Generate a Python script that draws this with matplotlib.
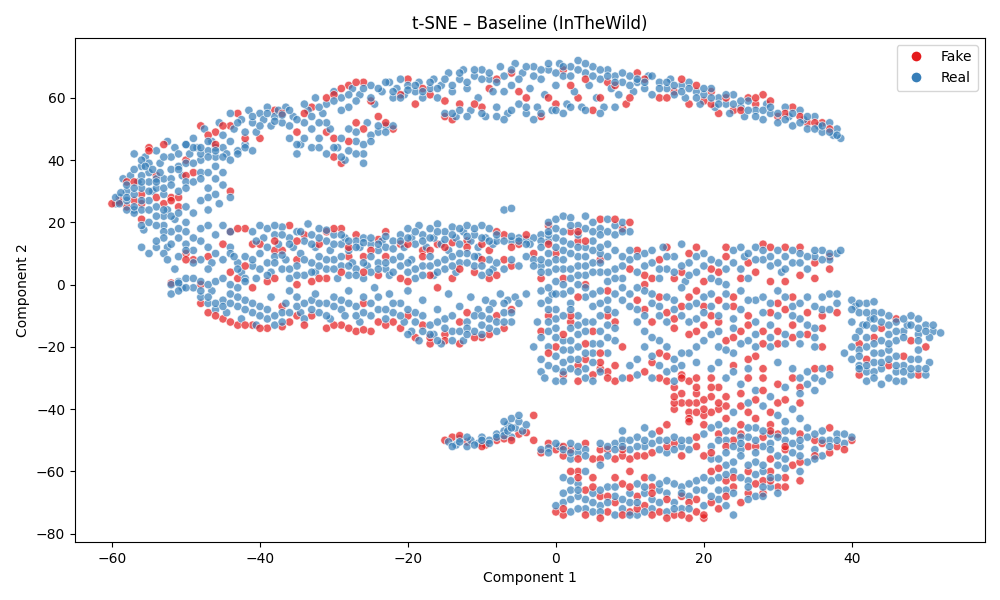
import numpy as np
import matplotlib
matplotlib.use("Agg")
import matplotlib.pyplot as plt
from matplotlib.lines import Line2D

# ---- data (t-SNE coordinates) ----
real_top = [(-59.5,26),(-59,28),(-58.5,34),(-58,30),(-57.5,35),(-57,24),(-56.5,33),(-56,38),(-55.5,41),(-55,36),(-54.5,30),(-54,43),(-53.5,39),(-53,34),(-52.5,46),(-52,41),(-51.5,44),(-51,38),(-50.5,35),(-50,45),(-49.5,42),(-49,47),(-48.5,44),(-48,40),(-47.5,50),(-47,43),(-46.5,46),(-46,41),(-45.5,52),(-45,44),(-44.5,42),(-44,55),(-43.5,50),(-43,43),(-42.5,53),(-42,45),(-41.5,56),(-41,52),(-40.5,49),(-40,55),(-39.5,53),(-39,57),(-38.5,51),(-38,54),(-37.5,56),(-37,52),(-36.5,57),(-36,47),(-35.5,54),(-35,42),(-34.5,45),(-34,52),(-33.5,56),(-33,44),(-32.5,60),(-32,47),(-31.5,55),(-31,58),(-30.5,50),(-30,62),(-29.5,44),(-29,60),(-28.5,40),(-28,57),(-27.5,63),(-27,46),(-26.5,61),(-26,42),(-25.5,52),(-25,64),(-24.5,58),(-24,49),(-23.5,62),(-23,51),(-22.5,65),(-22,60),(-21.5,63),(-21,66),(-20.5,61),(-20,64),(-19,62),(-18.5,65),(-18,60),(-17,63),(-16.5,66),(-16,60),(-15.5,64),(-15,55),(-14.5,68),(-14,62),(-13.5,54),(-13,66),(-12.5,69),(-12,63),(-11.5,56),(-11,67),(-10.5,60),(-10,69),(-9.5,54),(-9,66),(-8.5,62),(-8,57),(-7.5,70),(-7,67),(-6.5,55),(-6,64),(-5.5,71),(-5,58),(-4.5,68),(-4,55),(-3.5,63),(-3,70),(-2.5,57),(-2,66),(-1.5,61),(-1,69),(-0.5,56),(0,64),(0.5,71),(1,67),(1.5,58),(2,70),(2.5,62),(3,72),(3.5,57),(4,68),(4.5,64),(5,70),(5.5,60),(6,66),(6.5,57),(7,69),(7.5,63),(8,67),(8.5,61),(9,65),(10,67),(10.5,62),(11,65),(12,63),(12.5,67),(13,61),(14,65),(15,63),(15.5,66),(16,61),(17,64),(17.5,60),(18,65),(19,62),(19.5,58),(20,61),(21,63),(21.5,57),(22,60),(23,58),(23.5,55),(24,61),(25,57),(25.5,54),(26,59),(27,56),(28,53),(28.5,58),(29,55),(30,52),(31,57),(31.5,54),(32,51),(33,56),(33.5,53),(34,50),(35,54),(35.5,51),(36,49),(37,52),(37.5,48),(38,50),(38.5,47)]
real_top2 = [(-58,32),(-57,37),(-56,31),(-55,39),(-54,34),(-53,41),(-52,37),(-51,42),(-50,39),(-49,44),(-48,42),(-47,46),(-46,44),(-45,48),(-44,46),(-43,52),(-42,49),(-41,54),(-40,51),(-39,55),(-38,52.5),(-37,54.5),(-36,56),(-35,53),(-34,58),(-33,54),(-32,57),(-31,52),(-30,59),(-29,56),(-28,61),(-27,59),(-26,63),(-25,60),(-24,63),(-23,65),(-22,62),(-21,60),(-20,62.5),(-19,64),(-18,62),(-17,65),(-16,63),(-15,66),(-14,64),(-13,68),(-12,65),(-11,69),(-10,66),(-9,68),(-8,65),(-7,62),(-6,69),(-5,66),(-4,70),(-3,67),(-2,69),(-1,71),(0,68),(1,70),(2,67),(3,69),(4,71),(5,67),(6,69),(7,67),(8,65),(9,68),(10,64),(11,66),(12,65),(13,67),(14,63),(15,65),(16,64),(17,62),(18,63),(19,60),(20,63),(21,60),(22,58),(23,61),(24,58),(25,59),(26,56),(27,54),(28,56),(29,57),(30,55),(31,53),(32,55),(33,52),(34,54),(35,50),(36,51),(37,49),(38,48),
             (-14,55),(-12,54),(-10,55),(-8,54),(-6,56),(-4,57),(-2,55),(0,56),(2,57),(4,56),(6,55),(8,57),(-13,56),(-7,53),(-3,53),(1,55),
             (-31,42),(-30,44),(-29,47),(-28,43),(-27,49),(-26,45),(-25,48),(-24,51),(-23,49),(-22,51),(-29,41),(-27,42),(-26,39),(-28,50),(-25,46),(-34,47),(-33,50),(-32,44),(-35,45),(-36,51),(-32,52)]
fake_top = [(-59,27),(-58,25),(-56,29),(-55,44),(-54,35),(-52,28),(-50,40),(-49,36),(-48,51),(-46,49),(-44,51),(-43,55),(-40,47),(-38,56),(-35,49),(-33,57),(-31,49),(-30,41),(-29,39),(-28,64),(-27,52),(-26,65),(-24,54),(-22,50),(-20,66),(-19,58),(-17,61),(-15,54),(-14,53),(-13,58),(-10,57),(-9,63),(-6,68),(-4,60),(-2,54),(0,58),(1,69),(3,60),(5,56),(7,65),(9.5,58),(11,68),(14,60),(16,62),(18,58),(20,59),(21,62),(22,55),(24,56),(26,60),(27,58),(28,61),(30,54),(32,57),(34,52),(36,52)]
fake_top2 = [(-58,33),(-56,26),(-53,45),(-51,28),(-47,48),(-45,51),(-42,47),(-37,55),(-34,55),(-31,60),(-30,61),(-29,63),(-27,65),(-25,59),(-23,52),(-21,61),(-18,63),(-15,59),(-11,58),(-8,66),(-5,62),(-1,60),(2,64),(4,66),(6,60),(8,64),(10,60),(12,66),(15,60),(17,66),(19,64),(21,58),(23,60),(25,56),(27,60),(29,59),(31,55),(33,54),(35,52),(37,50),(-60,26),(-57,27),(-26,50),(-28,46),(-30,47)]

real_left = [(-59.5,28),(-59,26),(-58.8,29.5),(-58,27),(-57,42),(-56,40),(-55.5,38),(-54.5,37),(-53.5,36),(-56,35),(-55,33),(-54,31),(-53,29),(-55,27),(-54,25),(-52.5,24),(-53,22),(-51.5,21),(-56,24),(-57,23),(-50,45),(-48,44),(-46,43),(-45,41),(-47,41),(-49,39),(-51,37),(-48,36),(-46,34),(-50,33),(-47,31),(-45,32),(-52,34),(-53,19),(-52,17),(-51,15),(-50,13),(-52.5,12),(-54,12),(-55,10),(-53,10),(-49,11),(-48,14),(-47,12),(-46,10),(-48,8),(-46.5,7),(-51,1),(-52,0),(-50.5,-1),(-55.7,17.6),(-56,19),(-50,20),(-48,18),(-47,24),(-45.5,26),(-44,28)]
real_left2 = [(-58,28),(-57,29),(-56,27),(-57,31),(-55,30),(-56,33),(-54,33),(-53,31),(-52,32),(-51,30),(-50,31),(-49,33),(-48,34),(-47,36),(-46,38),(-45,36),(-44,40),(-43,42),(-42,44),(-41,43),(-55,24),(-54,22),(-53,24),(-52,22),(-51,23),(-50,25),(-49,23),(-48,27),(-47,28),(-46,29),(-55,20),(-54,19),(-53,17),(-51,18),(-50,17),(-49,15),(-50,11),(-51,9),(-49,7),(-47,5),(-45,8),(-44,12),(-53,15),(-54,14),(-52,13),(-56,12),(-57,25),(-58,24),(-44,17),(-45,19),(-47,19),(-46,16)]
fake_left = [(-59,26.5),(-57,33),(-55,43),(-54,28),(-53,26),(-52,27),(-56,21),(-51,25),(-50,10),(-49,8),(-47,9),(-52,0.5),(-48,0),(-44,30),(-46,45),(-50,35),(-45,13)]

real_mid = [(-41,17),(-40,19),(-39.5,15),(-39,18),(-38,16),(-37.5,13),(-37,18.5),(-36,15),(-35.5,12),(-35,17),(-34,14),(-33.5,19.5),(-33,16),(-32.5,12),(-32,18),(-31,14),(-30.5,11),(-30,16),(-29,13),(-28.5,15),(-28,11),(-27,14),(-26.5,12),(-26,15),(-25,13),(-24,11),(-23.5,14),(-23,12),(-22,14),(-21,16),(-20.5,12),(-20,18),(-19.5,15),(-19,13),(-18.5,19),(-18,16),(-17.5,12),(-17,18),(-16.5,15),(-16,19.5),(-15.5,13),(-15,17),(-14.5,11),(-14,18.5),(-13.5,15),(-13,13),(-12.5,17),(-12,19),(-11.5,14),(-11,16),(-10.5,12),(-10,19),(-9.5,15),(-9,18),(-8.5,13),(-7,24),(-6,24.5),(-8,14),(-6,14),(-5,15),(-4,14.5),(-3,15),(-2,16),(-1,14),(-3.5,13),
            (-44,10),(-43,7),(-42.5,4),(-42,9),(-41,6),(-40.5,2),(-40,10),(-39,7),(-38.5,4),(-38,9),(-37,5),(-36.5,8),(-36,2),(-35,6),(-34.5,10),(-34,3),(-33,7),(-32.5,4),(-32,9),(-31,5),(-30,8),(-29.5,2),(-29,6),(-28,3),(-27.5,7),(-27,5),(-26,2),(-25.5,6),(-25,4),(-24,7),(-23,5),(-22.5,3),(-22,8),(-21,6),(-20,4),(-19.5,8),(-19,2),(-18,6),(-17,9),(-16.5,3),(-16,7),(-15,5),(-14,9),(-13.5,4),(-13,7),(-12,10),(-11,6),(-10.5,9),(-10,3),(-9,8),(-8.5,5),
            (-49,-1),(-48,-4),(-47,-6),(-46.5,-2),(-46,-8),(-45,-5),(-44.5,-9),(-44,-3),(-43,-7),(-42.5,-11),(-42,-5),(-41,-9),(-40.5,-13),(-40,-7),(-39,-11),(-38.5,-4),(-38,-13),(-37,-9),(-36.5,-6),(-36,-2),(-35,-4),(-34.5,-9),(-34,-11),(-33,-5),(-32.5,-3),(-32,-9),(-31,-6),(-30.5,-11),(-30,-4),(-29,-8),(-28.5,-10),(-28,-2),(-27,-7),(-26.5,-12),(-26,-4),(-25,-10),(-24.5,-1),(-24,-8),(-23,-11),(-22.5,-3),(-22,-9),(-21,-6),(-20.5,-12),(-20,-2),(-19.5,-15),(-19,-9),(-18.5,-18),(-18,-5),(-17,-13),(-16.5,-16),(-16,-8),(-15.5,-19),(-15,-11),(-14.5,-3),(-14,-15),(-13,-7),(-12.5,-18),(-12,-12),(-11.5,-4),(-11,-15),(-10.5,-8),(-10,-13),(-9.5,-5),(-9,-11),(-8.5,-6),(-8,-15),(-7.5,-3),(-7,-9),(-6.5,-5),(-6,-12),(-5.5,-4),(-52,-3),(-51,0.5),(-52.5,8),(-51.5,5),(-50,2)]
real_mid2 = [(-40.5,14),(-39,12),(-38,19),(-37,16),(-36,13),(-34.5,17),(-33,13),(-32,15),(-31,17.5),(-30,13),(-29,16),(-28,14),(-27,12),(-26,13.5),(-25,15),(-24,13),(-23,15.5),(-22,11.5),(-21,14),(-20,15),(-19,17),(-18,14),(-17,15),(-16,17),(-15,14.5),(-14,16),(-13,18),(-12,15.5),(-11,18),(-10,15),(-9,14),(-8,16),(-7,14),(-6,15.5),(-5,14),(-4,13),(-2,14),(0,15),(-1,16),
             (-43.5,9),(-43,5),(-42,2),(-41,8),(-40,5),(-39,3),(-38,7),(-37,9.5),(-36,5),(-35,3),(-34,8),(-33,4),(-32,6),(-31,8),(-30,5),(-29,9),(-28,6),(-27,3),(-26,7),(-25,9),(-24,5),(-23,7),(-22,4),(-21,9),(-20,7),(-19,5),(-18,3),(-17,6),(-16,4),(-15,8),(-14,6),(-13,10),(-12,7),(-11,9),(-10,6),(-9,4),(-8,7),(-7,5),(-6,8),(-5,6),(-4,9),(-3,8),(-2,6),
             (-48,-2),(-47,-4),(-46,-6),(-45,-7),(-44,-6),(-43,-4),(-42,-8),(-41,-6),(-40,-10),(-39,-8),(-38,-10),(-37,-12),(-36,-9),(-35,-7),(-34,-6),(-33,-8),(-32,-6),(-31,-10),(-30,-7),(-29,-5),(-28,-6),(-27,-10),(-26,-9),(-25,-6),(-24,-4),(-23,-8),(-22,-6),(-21,-10),(-20,-8),(-19,-12),(-18,-10),(-17,-16),(-16,-12),(-15,-14),(-14,-10),(-13,-15),(-12,-14),(-11,-10),(-10,-10),(-9,-8),(-8,-12),(-7,-6),(-6,-9),(-5,-6),(-4,-3),(-16,-18),(-14,-18),(-12,-16),(-18,-15),(-20,-16),(-10,-16),(-9,-14),(-7,-12),
             (-51,-2),(-50,-1),(-49,2),(-48,1),(-47,0),(-46,1),(-45,2),(-44,0),(-43,-1),(-42,1)]
fake_mid = [(-44,17),(-42,18),(-41,13),(-38,11),(-36,19),(-34,16),(-31,17),(-29,18),(-27,16),(-24,14.5),(-21,13),(-18,11),(-16,13),(-14,13.5),(-12,14),(-9,11),(-7,16),(-5,13),(-43,2),(-41,-1),(-39,1),(-37,11),(-35,8),(-33,1),(-31,2),(-28,9),(-26,9),(-24,3),(-21,2),(-18,9),(-16,-1),(-14,2),(-11,4),(-9,2),(-7,8),(-47,-9),(-45,-11),(-43,-13),(-41,-13),(-39,-14),(-37,-13.5),(-35,-10),(-33,-10),(-31,-14),(-29,-13),(-27,-15),(-25,-15),(-24,-12),(-22,-12),(-20,-10),(-18,-13),(-17,-19),(-15,-16),(-13,-12),(-12,-9),(-10,-17),(-8,-10),(-6,-8),(-50,8),(-48,-6),(-37,-7),(-26,-6)]
fake_mid2 = [(-43,18),(-40,13),(-38,14),(-35,14),(-32,13),(-30,18),(-28,12),(-25,11),(-23,17),(-20,13),(-17,11),(-15,12),(-12,12),(-10,13),(-8,17),(-6,12),(-4,16),(-44,4),(-42,6),(-38,2),(-35,0),(-32,2),(-29,4),(-26,4),(-23,9),(-20,1),(-17,3),(-13,5),(-10,8),(-8,3),(-6,6),(-3,10),(-46,-10),(-44,-12),(-42,-13),(-40,-14),(-36,-12),(-34,-13),(-30,-13),(-28,-14),(-26,-14.5),(-23,-13),(-21,-14),(-19,-17),(-17,-17),(-15,-18),(-13,-19),(-11,-17),(-9,-16),(-7,-14)]

real_center = [(-1,20),(0,21),(1,22),(2,21.5),(3,19),(4,22),(5,20),(6,18),(7,21),(8,19),(9,20),(10,17),(-2,12),(-1,10),(0,8),(1,11),(2,13),(3,9),(4,12),(5,14),(6,10),(7,13),(-3,6),(-2,8),(-1,4),(0,1),(1,5),(2,2),(3,6),(4,3),(5,7),(6,4),(7,1),(8,5),(9,2),(-2,-2),(-1,-5),(0,-8),(1,-3),(2,-6),(3,-10),(4,-4),(5,-7),(6,-2),(7,-5),(-2.5,-12),(-1,-15),(0,-11),(1,-18),(2,-14),(3,-16),(4,-12),(5,-19),(6,-15),(7,-22),(-1,-20),(0,-23),(1,-25),(2,-21),(3,-24),(4,-27),(5,-22),(6,-28),(-3,-20),(-2,-28),(-1.5,-30),(0,-31),(1,-28),(-0.5,-3),(8,-9),(8,-18)]
real_center2 = [(0,18),(1,17),(2,19),(3,16),(4,18),(5,17),(6,16),(7,17),(8,16),(9,17),(-1,17),(0,12),(1,14),(2,10),(3,12),(4,9),(5,11),(6,12),(7,9),(8,11),(9,9),(-2,4),(-1,7),(0,5),(1,8),(2,5),(3,3),(4,6),(5,4),(6,7),(7,4),(8,2),(-1,-1),(0,-3),(1,0),(2,-2),(3,0),(4,-1),(5,-3),(6,-6),(7,-8),(-1,-8),(0,-14),(1,-10),(2,-8),(3,-13),(4,-15),(5,-12),(6,-10),(7,-13),(-2,-17),(-1,-12),(0,-17),(1,-21),(2,-18),(3,-20),(4,-22),(5,-25),(6,-19),(7,-17),(-2,-24),(-1,-26),(0,-27),(1,-31),(2,-27),(3,-28),(4,-30),(5,-31),(2,-24),(-2,-6),(8,-3),(9,-5),(9,-1),(8,-14)]
fake_center2 = [(-1,19),(2,17),(6,21),(9,18),(0,10),(3,14),(6,8),(-2,2),(1,2),(4,0),(7,-2),(-1,-10),(2,-12),(5,-15),(7,-10),(-2,-15),(0,-20),(3,-26),(6,-27),(8,-26),(1,-29),(4,-24),(7,-28)]

real_right = [(9,6),(10,8),(11,4),(12,10),(13,7),(14,2),(14.5,12),(15,5),(16,9),(17,13),(17.5,1),(18,7),(19,4),(20,10),(21,2),(22,7),(23,0),(24,11),(25,5),(25.5,9),(26,2),(27,12),(28,8),(29,6),(30,11),(30.5,4),(31,9),(32,7),(33,10),(34,5),(35,9),(36,11),(37,8),(38,10),(38.5,11),
              (10,-3),(11,-8),(12,-2),(13,-6),(14,-10),(15,-4),(16,-8),(17,-1),(18,-12),(19,-6),(20,-9),(21,-3),(22,-15),(23,-7),(24,-11),(25,-2),(26,-18),(27,-5),(28,-9),(29,-13),(30,-2),(31,-16),(32,-7),(33,-11),(34,-4),(35,-14),(36,-8),(37,-3),(38,-6),(35,-17),(33,-19),(29,-17),(27,-20),(24,-22),(22,-20),(20,-18),(18,-22),(16,-24),(14,-18),(12,-15),(11,-12),(13,-23),(15,-28),(17,-26),(19,-25),(21,-27),(11,-29),(13,-30),(9,-30),(16,-31),(23,-30),(25,-32),(27,-34),(29,-36),(31,-33),(33,-35),(34,-28),(35,-30),(36,-27),(37,-29),(32,-40),(30,-42),(28,-39),(26,-38),(24,-41),(31,-44),(33,-43)]
real_right2 = [(10,11),(11,9),(12,6),(13,11),(14,5),(15,9),(16,4),(17,6),(18,3),(19,9),(20,6),(21,8),(22,1),(23,5),(24,7),(25,12),(26,10),(27,8),(28,11),(29,9),(30,7),(31,5),(32,11),(33,7),(34,9),(35,11),(36,8),(37,10),
               (10,-7),(11,-1),(12,-10),(13,-3),(14,-7),(15,-12),(16,-5),(17,-10),(18,-7),(19,-11),(20,-4),(21,-7),(22,-10),(23,-3),(24,-14),(25,-8),(26,-5),(27,-12),(28,-4),(29,-6),(30,-10),(31,-4),(32,-10),(33,-6),(34,-13),(35,-7),(36,-4),(37,-8),(38,-3),(21,-16),(23,-21),(25,-19),(27,-16),(29,-20),(31,-19),(33,-16),(35,-20),(22,-25),(24,-28),(26,-27),(30,-25),(32,-27),(34,-32),(36,-31),(35,-34),(33,-30),(12,-20),(13,-17),(15,-20),(17,-22),(19,-20),(11,-24),(14,-26),(16,-27),(10,-26)]
fake_right = [(10,5),(12,3),(14,8),(16,2),(18,10),(19,-2),(20,1),(22,4),(23,12),(24,-4),(26,7),(28,13),(29,1),(30,-6),(31,12),(32,-4),(33,3),(35,7),(36,-10),(37,9),(11,-5),(13,-12),(15,-9),(16,-14),(17,-7),(18,-4),(19,-15),(20,-13),(21,-10),(22,-5),(23,-18),(24,-7),(25,-15),(26,-10),(27,-23),(28,-15),(29,-9),(30,-19),(31,-8),(32,-13),(34,-16),(36,-20),(37,-27),(14,-22),(15,-23),(12,-28),(10,-30),(8,-31),(14,-30),(16,-33),(17,-35),(18,-31),(19,-38),(20,-42),(21,-36),(22,-33),(18,-41),(16,-40),(20,-45),(22,-40),(23,-36),(25,-35),(26,-30),(28,-30),(30,-32),(32,-30),(29,-45),(27,-43),(30,-38),(24,-26),(26,-24),(28,-27),(33,-38),(7,-30),(5,-29),(3,-31),(6,-22),(4,-19),(8,-12),(9,-20),(1,-16),(-1,-22),(2,-10),(3,-4),(4,14),(3,17),(-1,13),(10,20),(8,21),(12,0),(6,-25)]
fake_right2 = [(11,11),(13,2),(15,12),(17,4),(19,12),(21,5),(23,9),(25,2),(27,4),(29,12),(31,1),(33,12),(35,2),(37,5),(12,-8),(14,-4),(16,-11),(18,-16),(20,-7),(22,-12),(24,-17),(26,-13),(28,-19),(30,-15),(32,-17),(34,-9),(36,-14),(38,-9),(13,-25),(15,-31),(17,-29),(19,-30),(21,-33),(23,-39),(25,-39),(27,-37),(29,-41),(31,-37),(33,-33),(35,-27),(17,-38),(19,-35),(18,-43),(21,-41),(16,-38),(20,-37),(23,-43),(26,-41),(28,-34)]

real_far = [(40,-5),(40.5,-7),(41,-9),(42,-6),(43,-5.5),(42.5,-11),(41.5,-13),(40,-12),(41,-15),(40.5,-17),(42,-17),(43,-14),(44,-12),(45,-10),(46,-12),(47,-15),(47.5,-13),(48,-10),(49,-11),(50,-13),(51,-15),(52,-15.5),(50.5,-17),(49,-16),(45,-16),(44,-18),(46,-18),(43,-19),(41,-21),(40,-24),(41,-26),(42,-28),(43,-25),(44,-27),(45,-30),(46,-28),(47,-26),(48,-29),(49,-27),(50,-29),(50.5,-25),(48,-24),(46,-23),(44,-22),(39,-22),(42,-31),(44,-32),(47,-31),(45,-21),(49,-21),(43,-9)]
real_far2 = [(40,-8),(41,-6),(42,-9),(42,-13),(43,-11),(44,-9),(45,-13),(46,-15),(47,-11),(48,-13),(49,-14),(50,-15),(51,-13),(49,-18),(47,-17),(45,-19),(43,-22),(42,-20),(41,-23),(42,-26),(43,-28),(44,-25),(45,-24),(46,-26),(47,-28),(48,-27),(49,-24),(50,-27),(46,-31),(43,-30),(41,-27),(40,-20)]
fake_far = [(41,-19),(43,-17),(46,-11),(48,-18),(42,-24),(45,-26),(47,-23),(49,-29),(44,-14),(41,-29),(50,-20)]

real_bottom = [(-14.5,-50.5),(-13.5,-51.5),(-13,-49.5),(-12,-52),(-11.5,-50),(-10.5,-51),(-10,-49),(-9,-50),(-8,-48),(-7,-47),(-6.5,-45),(-6,-43),(-5.5,-46),(-5,-44),(-4.5,-47),(-6,-49),(-2,-53),(-1,-52.5),(0.5,-52),(2,-51),(3,-54),(4,-53),(2,-56),(7,-55),(8,-51),(9,-50),(10,-53),(11,-49),(12,-52),(13,-51),(14,-50),(15,-54),(16,-49),(17,-52),(18,-50),(9,-47),(12,-46),(20,-48),(21,-52),(22,-45),(23,-50),(24,-47),(25,-53),(26,-49),(27,-46),(28,-52),(29,-48),(30,-55),(31,-50),(32,-47),(33,-52),(34,-49),(35,-53),(36,-47),(37,-50),(38,-48),(39,-51),(40,-49),(36,-55),(34,-57),(32,-54),(21,-56),(23,-58),(25,-55),(27,-57),(22,-62),(24,-60),(26,-63),(28,-60),(29,-65),(27,-68),(30,-62),(31,-59),(33,-60),(1,-62),(2,-66),(3,-64),(4,-69),(5,-67),(6,-71),(7,-65),(8,-68),(9,-72),(10,-70),(1,-70),(2,-73),(3,-68),(5,-73),(11,-64),(12,-67),(13,-62),(14,-66),(15,-63),(16,-70),(17,-65),(18,-68),(19,-63),(20,-66),(15,-73),(17,-72),(20,-71),(22,-69),(24,-74),(23,-66),(13,-72),(11,-74),(8,-74),(4,-60),(6,-58)]
real_bottom2 = [(-14,-52),(-13,-50.5),(-12,-49),(-11,-51.5),(-10,-50),(-9,-51),(-8,-49),(-7,-48.5),(-6.5,-47),(-5,-42),(-4,-45),(-6,-46),(-7,-44),(-1,-54),(0,-51),(1,-53),(2,-54),(3,-52),(4,-55),(6,-51),(7,-52),(8,-53),(9,-52),(10,-50),(11,-52),(12,-50),(13,-48),(14,-53),(15,-50),(16,-53),(17,-50),(18,-53),
                (21,-46),(22,-50),(23,-47),(24,-52),(25,-49),(26,-46),(27,-50),(28,-47),(29,-51),(30,-49),(31,-47),(32,-51),(33,-50),(34,-46),(35,-48),(36,-50),(37,-52),(38,-50),(39,-48),(35,-56),(33,-55),(31,-56),(29,-53),(27,-54),(25,-51),(23,-54),(22,-56),(24,-57),(26,-58),(28,-58),(30,-58),
                (21,-63),(23,-61),(25,-62),(27,-61),(28,-65),(29,-62),(30,-67),(26,-65),(24,-67),(22,-66),(20,-62),(19,-66),(18,-64),(17,-67),(16,-64),(15,-67),(14,-64),(13,-69),(12,-65),(11,-70),(10,-67),(9,-69),(8,-65),(7,-70),(6,-66),(5,-70),(4,-72),(3,-72),(2,-69),(1,-67),(0,-71),(2,-63),(3,-66),(6,-73),(10,-74),(12,-73),(14,-70),(16,-72),(18,-72),(21,-68),(23,-71),(26,-69),(28,-68)]
fake_bottom = [(-15,-50),(-14,-49),(-12,-50.5),(-9.5,-51.5),(-8,-50),(-7,-49.5),(-5,-48),(-4,-47.5),(-3,-42),(-2,-54),(-1,-51),(0,-53),(1,-55),(2,-53),(4,-51),(5,-56),(6,-53),(7,-53),(9,-55),(10,-56),(11,-55),(13,-54),(14,-47),(15,-45),(16,-51),(8,-56),(19,-52),(16,-36),(17,-30),(18,-38),(19,-33),(20,-40),(21,-30),(22,-38),(18,-44),(19,-41),(20,-55),(22,-48),(24,-50),(25,-45),(26,-52),(28,-49),(29,-56),(31,-53),(32,-58),(33,-48),(35,-50),(36,-51),(38,-52),(40,-50),(37,-46),(30,-48),(21,-60),(23,-63),(24,-65),(26,-67),(25,-70),(28,-63),(30,-65),(31,-62),(29,-60),(33,-63),(22,-72),(20,-75),(18,-75),(16,-74),(14,-73),(12,-71),(10,-73),(6,-68),(5,-62),(4,-66),(3,-60),(9,-64),(8,-70),(11,-68),(7,-73),(17,-68),(19,-69),(13,-65),(1,-74),(0,-73),(12,-62),(10,-60)]
fake_bottom2 = [(-13,-48.5),(-10,-52),(-6,-50),(-3,-50),(1,-52),(3,-56),(6,-56),(9,-53),(12,-55),(15,-52),(17,-55),(19,-49),(21,-54),(23,-52),(25,-48),(27,-52),(29,-47),(31,-52),(33,-57),(35,-55),(37,-54),(39,-53),(22,-59),(24,-62),(26,-60),(27,-64),(29,-63),(31,-65),(28,-67),(23,-68),(21,-70),(19,-73),(17,-74),(15,-75),(13,-74),(11,-72),(9,-74),(7,-68),(5,-65),(3,-62),(2,-60),(8,-62),(10,-65),(13,-67),(15,-69),(18,-70),(20,-74),(1,-72),(4,-74),(6,-75)]

labels = ["Fake", "Real"]
colors = {"Fake": "#e41a1c", "Real": "#377eb8"}

real = np.array(real_top + real_top2 + real_left + real_left2 + real_mid + real_mid2 + real_center + real_center2
                + real_right + real_right2 + real_far + real_far2 + real_bottom + real_bottom2, dtype=float)
fake = np.array(fake_top + fake_top2 + fake_left + fake_mid + fake_mid2 + fake_center2 + fake_right + fake_right2
                + fake_far + fake_bottom + fake_bottom2, dtype=float)

# interleave the two classes in drawing order (as a single hue scatter would)
order_key = np.concatenate([np.arange(len(real)) / len(real), (np.arange(len(fake)) + 0.5) / len(fake)])
pts = np.vstack([real, fake])
cls = np.array(["Real"] * len(real) + ["Fake"] * len(fake))
idx = np.argsort(order_key, kind="stable")
pts, cls = pts[idx], cls[idx]

fig = plt.figure(figsize=(10, 6), dpi=100)
ax = fig.add_axes([0.075, 0.097, 0.91, 0.84])
ax.scatter(pts[:, 0], pts[:, 1], c=[colors[c] for c in cls], s=36, alpha=0.7,
           edgecolors="white", linewidths=0.6)
ax.set_xlim(-65, 58)
ax.set_ylim(-82.6, 79.3)
ax.set_title("t-SNE – Baseline (InTheWild)", fontsize=12)
ax.set_xlabel("Component 1")
ax.set_ylabel("Component 2")
handles = [Line2D([], [], marker="o", linestyle="", markersize=8, markerfacecolor=colors[l],
                  markeredgecolor="white", label=l) for l in labels]
ax.legend(handles=handles, loc="upper right")
fig.savefig("out.png", dpi=100)
